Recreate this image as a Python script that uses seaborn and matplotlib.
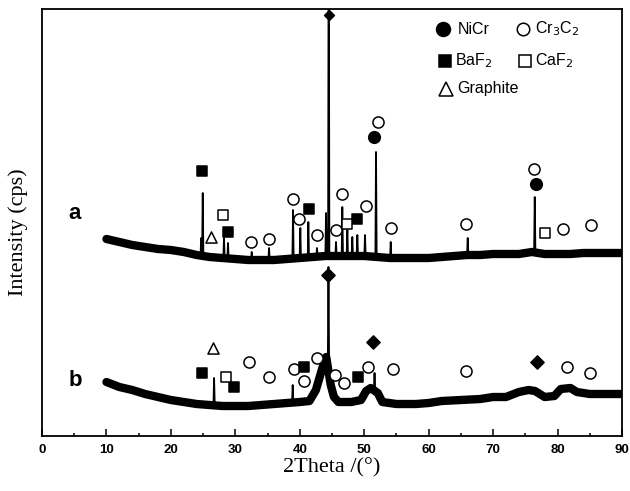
import numpy as np
import pandas as pd
import seaborn as sns
import matplotlib
matplotlib.use("Agg")
import matplotlib.pyplot as plt
from matplotlib.ticker import MultipleLocator

# XRD patterns of coating a and b (intensity in arbitrary units)

# smooth background of pattern a
a_band_x = [10, 12, 14, 16, 18, 20, 22, 24, 26, 28, 30, 32, 34, 36, 38, 40, 42, 44, 46, 48,
            50, 52, 54, 56, 58, 60, 62, 64, 66, 68, 70, 72, 74, 76, 78, 80, 82, 84, 86, 88, 90]
a_band_y = [252, 249, 246, 244, 242, 241, 239, 236, 234, 233, 232, 231, 231, 231, 232, 233, 234, 235, 235, 235,
            235, 234, 233, 233, 233, 233, 234, 235, 236, 236, 237, 237, 237, 239, 237, 237, 237, 238, 238, 238, 238]
# sharp peaks of pattern a
a_peak_x = [24.70, 24.94, 28.24, 28.86, 32.54, 35.23, 38.95, 40.08, 41.33, 42.67, 44.07, 44.49,
            45.62, 46.60, 47.38, 48.15, 48.93, 50.12, 51.83, 54.11, 66.06, 76.46]
a_peak_top = [253, 298, 253, 248, 239, 243, 281, 263, 269, 243, 278, 620,
              249, 284, 261, 254, 256, 256, 339, 249, 253, 294]
a_peak_foot = [236, 235, 233, 233, 231, 231, 232, 233, 234, 234, 235, 235,
               235, 235, 235, 235, 235, 235, 234, 233, 236, 239]

# background of pattern b (with the broad humps)
b_band_x = [10, 12, 14, 16, 18, 20, 22, 24, 26, 28, 30, 32, 34, 36, 38, 40, 41.5, 42.5, 43.5, 44.1,
            44.8, 45.3, 46, 48, 49.5, 50.3, 51.0, 52.1, 52.8, 55, 58, 60, 62, 65, 68, 70, 72, 74,
            75.5, 76.5, 78, 79.5, 80.5, 82, 83, 85, 88, 90]
b_band_y = [109, 104, 101, 97, 94, 91, 89, 87, 86, 85, 85, 85, 86, 87, 88, 89, 90, 101, 123, 134,
            106, 94, 89, 89, 91, 100, 103, 98, 89, 87, 87, 88, 90, 91, 92, 94, 94, 99,
            101, 100, 94, 95, 102, 103, 99, 97, 97, 97]
b_peak_x = [26.70, 38.90, 44.45, 51.60]
b_peak_top = [113, 106, 224, 118]
b_peak_foot = [86, 88, 130, 101]

# phase markers, pattern a
a_nicr_x = [51.57, 76.61]
a_nicr_y = [354, 307]
a_nicr_d_x = [44.46]
a_nicr_d_y = [476]
a_cr3c2_x = [32.43, 35.23, 38.95, 39.88, 42.67, 45.62, 46.55, 50.28, 52.14, 54.11, 65.80, 76.35, 80.90, 85.24]
a_cr3c2_y = [249, 252, 292, 272, 256, 261, 297, 285, 369, 263, 267, 322, 262, 266]
a_baf2_x = [24.83, 28.82, 41.39, 48.93]
a_baf2_y = [320, 259, 282, 272]
a_caf2_x = [28.09, 47.38, 78.01]
a_caf2_y = [276, 267, 258]
a_graph_x = [26.18]
a_graph_y = [254]

# phase markers, pattern b
b_nicr_x = [44.43, 51.32, 76.82]
b_nicr_y = [216, 149, 129]
b_cr3c2_x = [32.17, 35.23, 39.11, 40.61, 42.67, 45.47, 46.87, 50.54, 54.52, 65.80, 81.47, 84.99]
b_cr3c2_y = [129, 114, 122, 110, 133, 116, 108, 124, 122, 120, 124, 118]
b_baf2_x = [24.88, 29.84, 40.70, 49.04]
b_baf2_y = [118, 104, 124, 114]
b_caf2_x = [28.55]
b_caf2_y = [114]
b_graph_x = [26.58]
b_graph_y = [143]


def full_curve(band_x, band_y, peak_x, peak_top, peak_foot, hw=0.1):
    xs, ys = [], []
    for x, y in zip(band_x, band_y):
        if all(abs(x - p) > hw for p in peak_x):
            xs.append(x)
            ys.append(y)
    for p, t, f in zip(peak_x, peak_top, peak_foot):
        xs += [p - hw, p, p + hw]
        ys += [f, t, f]
    return pd.DataFrame({"theta": xs, "intensity": ys}).sort_values("theta")


sns.set_theme(style="white")
plt.rcParams["font.family"] = ["Liberation Sans", "DejaVu Sans"]
plt.rcParams["text.color"] = "black"
plt.rcParams["axes.labelcolor"] = "black"
plt.rcParams["xtick.color"] = "black"

fig = plt.figure(figsize=(6.3, 4.91), dpi=100)
ax = fig.add_axes([0.0667, 0.112, 0.9206, 0.8697])

for bx, by, px, pt, pf in [(a_band_x, a_band_y, a_peak_x, a_peak_top, a_peak_foot),
                           (b_band_x, b_band_y, b_peak_x, b_peak_top, b_peak_foot)]:
    band = pd.DataFrame({"theta": bx, "intensity": by})
    sns.lineplot(data=band, x="theta", y="intensity", ax=ax, color="black", lw=6,
                 estimator=None, sort=True)
    curve = full_curve(bx, by, px, pt, pf)
    sns.lineplot(data=curve, x="theta", y="intensity", ax=ax, color="black", lw=1.3,
                 estimator=None, sort=False)

# markers
def marks(x, y, marker, filled, s):
    sns.scatterplot(x=x, y=y, ax=ax, marker=marker, s=s, zorder=5,
                    color="black" if filled else "white", edgecolor="black", linewidth=1.1)

marks(a_nicr_x, a_nicr_y, "o", True, 70)
marks(a_nicr_d_x, a_nicr_d_y, "D", True, 25)
marks(b_nicr_x, b_nicr_y, "D", True, 45)
marks(a_cr3c2_x + b_cr3c2_x, a_cr3c2_y + b_cr3c2_y, "o", False, 64)
marks(a_baf2_x + b_baf2_x, a_baf2_y + b_baf2_y, "s", True, 42)
marks(a_caf2_x + b_caf2_x, a_caf2_y + b_caf2_y, "s", False, 42)
marks(a_graph_x + b_graph_x, a_graph_y + b_graph_y, "^", False, 64)

ax.text(5.1, 277, "a", fontsize=16, fontweight="bold", ha="center", va="center")
ax.text(5.1, 111, "b", fontsize=16, fontweight="bold", ha="center", va="center")

# hand-placed legend
leg = [("o", True, 10, 0.692, 0.953, 0.716, "NiCr"),
       ("o", False, 9, 0.830, 0.953, 0.850, "Cr$_3$C$_2$"),
       ("s", True, 9, 0.694, 0.878, 0.712, "BaF$_2$"),
       ("s", False, 9, 0.832, 0.878, 0.850, "CaF$_2$"),
       ("^", False, 10, 0.696, 0.813, 0.716, "Graphite")]
for m, filled, ms, mx, my, tx, label in leg:
    ax.plot([mx], [my], marker=m, ms=ms, mfc="black" if filled else "white", mec="black",
            mew=1.1, transform=ax.transAxes, ls="none")
    ax.text(tx, my, label, transform=ax.transAxes, fontsize=11.5, va="center", ha="left")

ax.set_xlim(0, 90)
ax.set_ylim(55, 482)
ax.set_xticks(range(0, 91, 10))
ax.xaxis.set_minor_locator(MultipleLocator(5))
ax.set_yticks([])
ax.tick_params(axis="x", which="major", direction="in", length=5, width=1.1, bottom=True,
               labelsize=9.5, pad=6, colors="black")
ax.tick_params(axis="x", which="minor", direction="in", length=2.5, width=1.1, bottom=True)
for lab in ax.get_xticklabels():
    lab.set_fontweight("bold")
for sp in ax.spines.values():
    sp.set_color("black")
    sp.set_linewidth(1.3)

ax.set_xlabel("2Theta /(°)", family="Liberation Serif", fontsize=16, labelpad=1)
ax.set_ylabel("Intensity (cps)", family="Liberation Serif", fontsize=16)
ax.yaxis.set_label_coords(-0.024, 0.478)

fig.savefig("out.png", dpi=100)
